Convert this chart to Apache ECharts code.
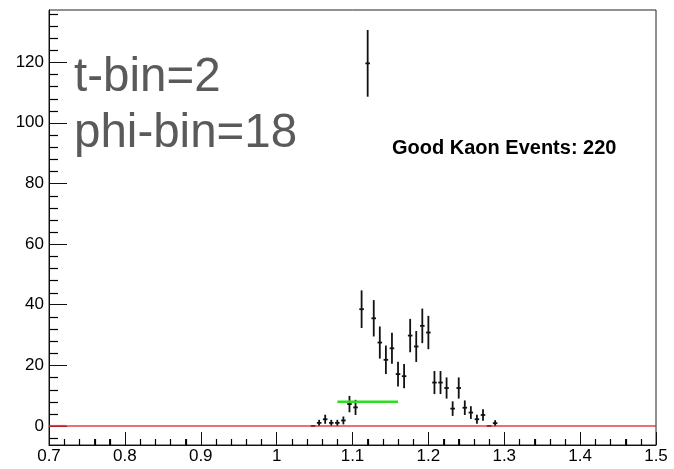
<!DOCTYPE html>
<html>
<head>
<meta charset="utf-8">
<script src="https://cdn.jsdelivr.net/npm/echarts@6/dist/echarts.min.js"></script>
<style>
  html, body { margin: 0; padding: 0; background: #fff; }
  #mainChart { width: 674px; height: 469px; }
</style>
</head>
<body>
<div id="mainChart"></div>
<script>
// bin centres (mass), contents and errors
var binX = [1.048, 1.056, 1.064, 1.072, 1.080, 1.088, 1.096, 1.104, 1.112, 1.120,
            1.128, 1.136, 1.144, 1.152, 1.160, 1.168, 1.176, 1.184, 1.192, 1.200,
            1.208, 1.216, 1.224, 1.232, 1.240, 1.248, 1.256, 1.264, 1.272, 1.280, 1.288];
var binY = [0, 1, 2.2, 1, 1, 1.8, 7.2, 6.1, 38.5, 119.6,
            35.5, 27.5, 21.8, 25.6, 17.1, 16.4, 29.8, 26.2, 33, 30.8,
            14.3, 14.3, 12.5, 5.7, 12.5, 6, 4.4, 2.2, 3.6, 0, 0.9];
var binErr = [0, 1, 1.5, 1, 1, 1.3, 2.7, 2.5, 6.2, 11,
              6, 5.3, 4.7, 5.1, 4.1, 4, 5.5, 5.1, 5.7, 5.5,
              3.8, 3.8, 3.5, 2.4, 3.5, 2.4, 2.1, 1.5, 1.9, 0, 1];
var binHalf = 0.003;

var zeroLineX = [0.7, 1.5];
var zeroDupX = [0.7, 0.723];
var cutX = [1.08, 1.16];
var cutY = 8;

var xRange = [0.7, 1.5];
var yRange = [-6.3, 137.2];
var yMajor = [0, 20, 40, 60, 80, 100, 120];
var yMinor = [-4, 4, 8, 12, 16, 24, 28, 32, 36, 44, 48, 52, 56, 64, 68, 72, 76,
              84, 88, 92, 96, 104, 108, 112, 116, 124, 128, 132, 136];
var xMinor = [0.72, 0.74, 0.76, 0.78, 0.82, 0.84, 0.86, 0.88, 0.92, 0.94, 0.96, 0.98,
              1.02, 1.04, 1.06, 1.08, 1.12, 1.14, 1.16, 1.18, 1.22, 1.24, 1.26, 1.28,
              1.32, 1.34, 1.36, 1.38, 1.42, 1.44, 1.46, 1.48];

var textLines = ["t-bin=2", "phi-bin=18"];
var countText = "Good Kaon Events: 220";

var font = "'Liberation Sans', Arial, Helvetica, sans-serif";

var histData = [];
for (var i = 0; i < binX.length; i++) {
    histData.push([binX[i], binY[i], binErr[i]]);
}
var yTickData = yMinor.map(function (v) { return [xRange[0], v]; });
var xTickData = xMinor.map(function (v) { return [v, yRange[0]]; });

function renderBin(params, api) {
    var x = api.value(0), y = api.value(1), e = api.value(2);
    var top = api.coord([x, y + e]);
    var bot = api.coord([x, y - e]);
    var l = api.coord([x - binHalf, y]);
    var r = api.coord([x + binHalf, y]);
    var st = { stroke: "#111", lineWidth: 1.8 };
    var kids = [{ type: "line", shape: { x1: l[0], y1: l[1], x2: r[0], y2: r[1] }, style: st }];
    if (e > 0) {
        kids.push({ type: "line", shape: { x1: top[0], y1: top[1], x2: bot[0], y2: bot[1] }, style: st });
    }
    return { type: "group", children: kids };
}

// minor ticks on the left edge, snapped to the pixel grid
function renderYTick(params, api) {
    var c = api.coord([api.value(0), api.value(1)]);
    var y = Math.round(c[1]) + 0.5;
    return { type: "line", shape: { x1: c[0], y1: y, x2: c[0] + 9, y2: y },
             style: { stroke: "#000", lineWidth: 1.2 } };
}
// minor ticks on the bottom edge
function renderXTick(params, api) {
    var c = api.coord([api.value(0), api.value(1)]);
    var x = Math.round(c[0]) + 0.5;
    return { type: "line", shape: { x1: x, y1: c[1], x2: x, y2: c[1] - 6 },
             style: { stroke: "#000", lineWidth: 1.2 } };
}

function toLine(xs, y) {
    return [[xs[0], y], [xs[1], y]];
}

var n = echarts.init(document.getElementById("mainChart"));
n.setOption({
    backgroundColor: "#fff",
    animation: false,
    grid: {
        left: 49, right: 18, top: 10, bottom: 24,
        show: true, borderColor: "#222", borderWidth: 1, backgroundColor: "transparent"
    },
    xAxis: [{
        type: "value", min: xRange[0], max: xRange[1], interval: 0.1,
        axisLine: { show: true, onZero: false, lineStyle: { color: "#111", width: 1 } },
        axisTick: { show: true, inside: true, length: 13, lineStyle: { color: "#111" } },
        minorTick: { show: true, splitNumber: 5, length: 6, lineStyle: { color: "#111", width: 1 } },
        axisLabel: { color: "#000", fontSize: 17, fontFamily: font, margin: 3, showMinLabel: true, showMaxLabel: true },
        splitLine: { show: false }
    }],
    yAxis: [{
        type: "value", min: yRange[0], max: yRange[1], position: "left",
        axisLine: { show: true, onZero: false, lineStyle: { color: "#111", width: 1 } },
        axisTick: { show: true, inside: true, length: 18, customValues: yMajor, lineStyle: { color: "#111" } },
        axisLabel: { color: "#000", fontSize: 17, fontFamily: font, margin: 5, customValues: yMajor },
        splitLine: { show: false }
    }],
    graphic: [
        { type: "text", left: 74, top: 54, style: { text: textLines[0], font: "47.5px " + font, fill: "#5a5a5a" } },
        { type: "text", left: 74, top: 110, style: { text: textLines[1], font: "47.5px " + font, fill: "#5a5a5a" } },
        { type: "text", left: 392, top: 138, style: { text: countText, font: "bold 20px " + font, fill: "#000" } }
    ],
    series: [{
        name: "hist", type: "custom", renderItem: renderBin, data: histData, z: 2,
        encode: { x: 0, y: 1 }
    }, {
        name: "yminor", type: "custom", renderItem: renderYTick, data: yTickData, z: 5,
        encode: { x: 0, y: 1 }, silent: true
    }, {
        name: "xminor", type: "custom", renderItem: renderXTick, data: xTickData, z: 5,
        encode: { x: 0, y: 1 }, silent: true
    }, {
        name: "zero", type: "line", data: toLine(zeroLineX, 0), symbol: "none", z: 4,
        lineStyle: { color: "rgba(215,40,40,0.65)", width: 2 }
    }, {
        name: "zero2", type: "line", data: toLine(zeroDupX, 0), symbol: "none", z: 4,
        lineStyle: { color: "rgba(215,40,40,0.65)", width: 2 }
    }, {
        name: "cut", type: "line", data: toLine(cutX, cutY), symbol: "none", z: 3,
        lineStyle: { color: "#2edc1e", width: 2.5 }
    }]
});
</script>
</body>
</html>
